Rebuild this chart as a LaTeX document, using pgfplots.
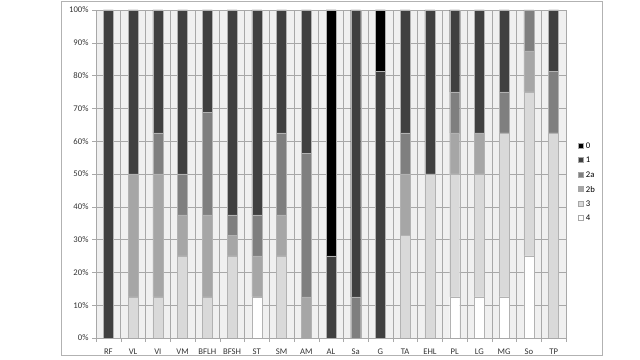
\documentclass[border=0pt]{standalone}
\usepackage{pgfplots}
\pgfplotsset{compat=1.18}
\usepackage{fontspec}
\setmainfont{Carlito}
\definecolor{cZero}{HTML}{000000}
\definecolor{cOne}{HTML}{404040}
\definecolor{cTwoA}{HTML}{7F7F7F}
\definecolor{cTwoB}{HTML}{A6A6A6}
\definecolor{cThree}{HTML}{D9D9D9}
\definecolor{cFour}{HTML}{FFFFFF}
\definecolor{plotbg}{HTML}{F0F0F0}
\definecolor{gridc}{HTML}{A8A8A8}
\begin{document}
\begin{tikzpicture}
\useasboundingbox (0bp,0bp) rectangle (640bp,360bp);
\draw[color=gray!60, line width=0.8bp] (61bp,5bp) rectangle (602bp,359bp);
\begin{axis}[
  at={(96bp,22bp)}, anchor=south west,
  scale only axis, width=470bp, height=328bp,
  ybar stacked, bar width=10bp,
  xmin=-0.5, xmax=18.5, ymin=0, ymax=100,
  axis background/.style={fill=plotbg},
  xtick={0,...,18},
  xticklabels={RF,VL,VI,VM,BFLH,BFSH,ST,SM,AM,AL,Sa,G,TA,EHL,PL,LG,MG,So,TP},
  major x tick style={draw=none},
  minor xtick={-0.5,0.5,...,18.5},
  minor x tick style={draw=gridc},
  xminorgrids, minor grid style={draw=gridc, line width=0.5bp},
  ytick={0,10,...,100},
  yticklabel={\pgfmathprintnumber{\tick}\%},
  ymajorgrids, major grid style={draw=gridc, line width=0.5bp},
  tick align=outside, major tick length=4bp, minor tick length=4bp,
  y tick style={draw=gridc},
  axis line style={draw=gridc},
  axis x line*=bottom, axis y line*=left,
  /pgf/number format/assume math mode=true,
  tick label style={font=\fontsize{8.7}{10}\selectfont, text=black!80},
  xticklabel style={yshift=-3bp},
  every axis plot/.append style={draw=gray!60, line width=0.3bp},
  legend reversed=true,
  legend style={at={(1,0.476)}, anchor=west, xshift=9bp, draw=none, fill=none,
    font=\fontsize{8.7}{10}\selectfont, row sep=6.8bp, column sep=1.5bp,
    nodes={inner sep=1bp, text depth=0pt}},
  legend image code/.code={\draw[#1, draw=gray!70, line width=0.3bp] (0bp,-2.5bp) rectangle (5bp,2.5bp);},
  legend cell align=left,
]
% 4
\addplot[fill=cFour] coordinates {(0,0) (1,0) (2,0) (3,0) (4,0) (5,0) (6,12.5) (7,0) (8,0) (9,0) (10,0) (11,0) (12,0) (13,0) (14,12.5) (15,12.5) (16,12.5) (17,25) (18,0)};
% 3
\addplot[fill=cThree] coordinates {(0,0) (1,12.5) (2,12.5) (3,25) (4,12.5) (5,25) (6,0) (7,25) (8,0) (9,0) (10,0) (11,0) (12,31.25) (13,50) (14,37.5) (15,37.5) (16,50) (17,50) (18,62.5)};
% 2b
\addplot[fill=cTwoB] coordinates {(0,0) (1,37.5) (2,37.5) (3,12.5) (4,25) (5,6.25) (6,12.5) (7,12.5) (8,12.5) (9,0) (10,0) (11,0) (12,18.75) (13,0) (14,12.5) (15,12.5) (16,0) (17,12.5) (18,0)};
% 2a
\addplot[fill=cTwoA] coordinates {(0,0) (1,0) (2,12.5) (3,12.5) (4,31.25) (5,6.25) (6,12.5) (7,25) (8,43.75) (9,0) (10,12.5) (11,0) (12,12.5) (13,0) (14,12.5) (15,0) (16,12.5) (17,12.5) (18,18.75)};
% 1
\addplot[fill=cOne] coordinates {(0,100) (1,50) (2,37.5) (3,50) (4,31.25) (5,62.5) (6,62.5) (7,37.5) (8,43.75) (9,25) (10,87.5) (11,81.25) (12,37.5) (13,50) (14,25) (15,37.5) (16,25) (17,0) (18,18.75)};
% 0
\addplot[fill=cZero] coordinates {(0,0) (1,0) (2,0) (3,0) (4,0) (5,0) (6,0) (7,0) (8,0) (9,75) (10,0) (11,18.75) (12,0) (13,0) (14,0) (15,0) (16,0) (17,0) (18,0)};
\legend{4,3,2b,2a,1,0}
\end{axis}
\end{tikzpicture}
\end{document}
